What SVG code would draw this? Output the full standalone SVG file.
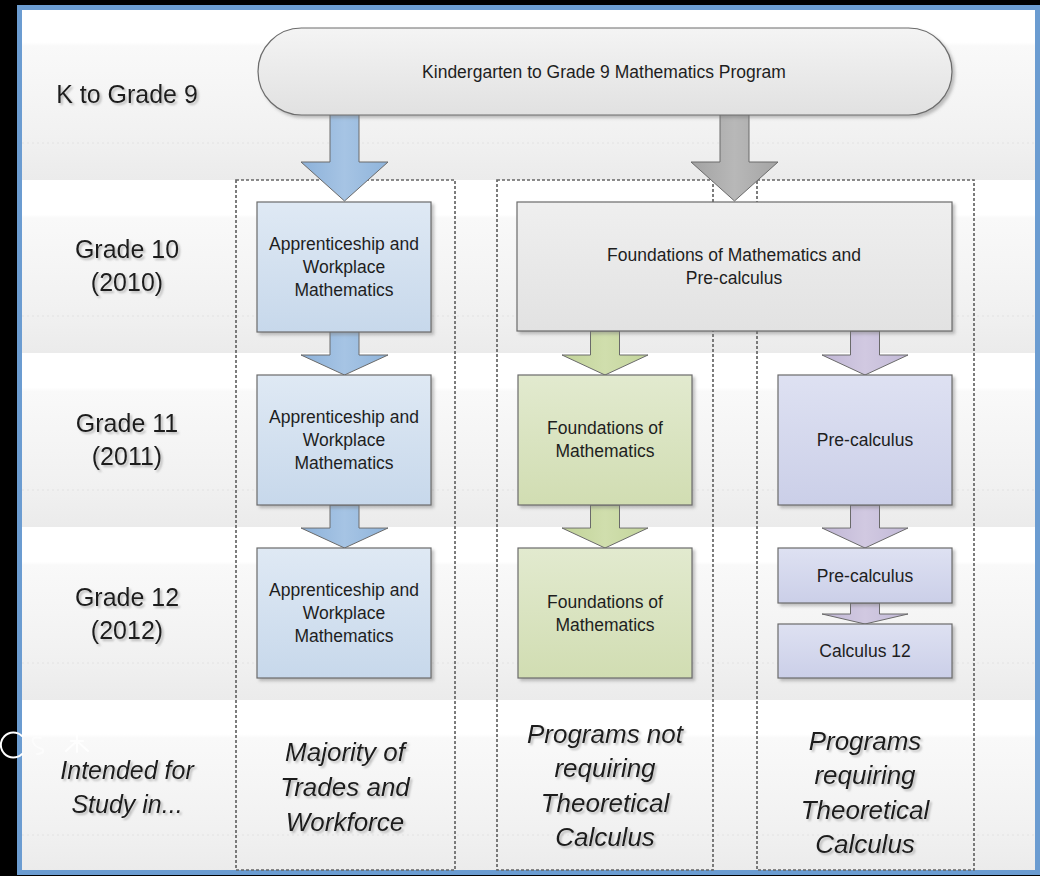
<svg xmlns="http://www.w3.org/2000/svg" width="1040" height="876" viewBox="0 0 1040 876">
  <defs>
    <linearGradient id="rowGrad" x1="0" y1="0" x2="0" y2="1">
      <stop offset="0" stop-color="#ffffff"/>
      <stop offset="0.2" stop-color="#ffffff"/>
      <stop offset="0.22" stop-color="#f9f9f9"/>
      <stop offset="0.5" stop-color="#f5f5f5"/>
      <stop offset="0.75" stop-color="#f1f1f1"/>
      <stop offset="1" stop-color="#ebebeb"/>
    </linearGradient>
    <linearGradient id="pillGrad" x1="0" y1="0" x2="0" y2="1">
      <stop offset="0" stop-color="#f4f4f4"/>
      <stop offset="1" stop-color="#e1e1e1"/>
    </linearGradient>
    <linearGradient id="grayBoxGrad" x1="0" y1="0" x2="0" y2="1">
      <stop offset="0" stop-color="#efefef"/>
      <stop offset="1" stop-color="#e2e2e2"/>
    </linearGradient>
    <linearGradient id="blueBoxGrad" x1="0" y1="0" x2="0" y2="1">
      <stop offset="0" stop-color="#dfe9f4"/>
      <stop offset="1" stop-color="#c7d8eb"/>
    </linearGradient>
    <linearGradient id="greenBoxGrad" x1="0" y1="0" x2="0" y2="1">
      <stop offset="0" stop-color="#e2eacf"/>
      <stop offset="1" stop-color="#d1ddb2"/>
    </linearGradient>
    <linearGradient id="purpleBoxGrad" x1="0" y1="0" x2="0" y2="1">
      <stop offset="0" stop-color="#dee1f2"/>
      <stop offset="1" stop-color="#cbcfe8"/>
    </linearGradient>
    <linearGradient id="blueArrow" x1="0" y1="0" x2="1" y2="0">
      <stop offset="0" stop-color="#8cb1d9"/>
      <stop offset="0.5" stop-color="#a6c4e4"/>
      <stop offset="1" stop-color="#8fb4db"/>
    </linearGradient>
    <linearGradient id="grayArrow" x1="0" y1="0" x2="1" y2="0">
      <stop offset="0" stop-color="#a2a2a2"/>
      <stop offset="0.5" stop-color="#b8b8b8"/>
      <stop offset="1" stop-color="#a4a4a4"/>
    </linearGradient>
    <linearGradient id="greenArrow" x1="0" y1="0" x2="1" y2="0">
      <stop offset="0" stop-color="#c1d398"/>
      <stop offset="0.5" stop-color="#d0dead"/>
      <stop offset="1" stop-color="#c3d59b"/>
    </linearGradient>
    <linearGradient id="purpleArrow" x1="0" y1="0" x2="1" y2="0">
      <stop offset="0" stop-color="#c0b6d5"/>
      <stop offset="0.5" stop-color="#d1c9e1"/>
      <stop offset="1" stop-color="#c2b9d7"/>
    </linearGradient>
    <filter id="txtShadow" x="-10%" y="-20%" width="130%" height="150%">
      <feDropShadow dx="2" dy="2" stdDeviation="0.8" flood-color="#8a8a8a" flood-opacity="0.55"/>
    </filter>
    <filter id="boxShadow" x="-10%" y="-10%" width="125%" height="125%">
      <feDropShadow dx="2.5" dy="2.5" stdDeviation="1.5" flood-color="#777777" flood-opacity="0.45"/>
    </filter>
  </defs>
  <style>
    .row { fill: url(#rowGrad); }
    .rowline { stroke: #e2e2e2; stroke-width: 1; stroke-dasharray: 2 3; }
    .col { fill: none; stroke: #666666; stroke-width: 1.7; stroke-dasharray: 3 2; }
    .lbl { font-family: "Liberation Sans", Arial, sans-serif; font-size: 25px; fill: #1c1c1c; text-anchor: middle; filter: url(#txtShadow); }
    .ital { font-family: "Liberation Sans", Arial, sans-serif; font-style: italic; font-size: 26px; fill: #1c1c1c; text-anchor: middle; filter: url(#txtShadow); }
    .ital24 { font-family: "Liberation Sans", Arial, sans-serif; font-style: italic; font-size: 25px; fill: #1c1c1c; text-anchor: middle; filter: url(#txtShadow); }
    .bt { font-family: "Liberation Sans", Arial, sans-serif; font-size: 17.5px; fill: #1e1e1e; text-anchor: middle; }
    .box { stroke: #6c6c6c; stroke-width: 1.2; filter: url(#boxShadow); }
    .arrow { stroke: #6a6a6a; stroke-width: 1; stroke-linejoin: miter; }
    .spark { stroke: #ffffff; stroke-width: 2; fill: none; stroke-linecap: round; }
  </style>

  <!-- background -->
  <rect x="0" y="0" width="1040" height="876" fill="#000000"/>
  <g id="rows">
    <rect class="row" x="20" y="8" width="1017" height="172"/>
    <rect class="row" x="20" y="180" width="1017" height="173"/>
    <rect class="row" x="20" y="353" width="1017" height="174"/>
    <rect class="row" x="20" y="527" width="1017" height="173"/>
    <rect class="row" x="20" y="700" width="1017" height="172"/>
    <line class="rowline" x1="22" y1="143" x2="1035" y2="143"/>
    <line class="rowline" x1="22" y1="316" x2="1035" y2="316"/>
    <line class="rowline" x1="22" y1="490" x2="1035" y2="490"/>
    <line class="rowline" x1="22" y1="663" x2="1035" y2="663"/>
    <line class="rowline" x1="22" y1="835" x2="1035" y2="835"/>
  </g>
  <rect x="19.5" y="7.5" width="1018" height="865" fill="none" stroke="#6b9cd1" stroke-width="5"/>

  <!-- row labels -->
  <g id="row-labels">
    <text class="lbl" x="127" y="103">K to Grade 9</text>
    <text class="lbl" x="127" y="258">Grade 10</text>
    <text class="lbl" x="127" y="291">(2010)</text>
    <text class="lbl" x="127" y="432">Grade 11</text>
    <text class="lbl" x="127" y="465">(2011)</text>
    <text class="lbl" x="127" y="606">Grade 12</text>
    <text class="lbl" x="127" y="639">(2012)</text>
    <text class="ital24" x="127" y="779">Intended for</text>
    <text class="ital24" x="127" y="813">Study in...</text>
  </g>

  <!-- stray overlay marks at lower left -->
  <g id="overlay-marks">
    <path class="spark" d="M 22 736 A 12.5 12.5 0 1 0 22 754" stroke-width="2.5"/>
    <path class="spark" d="M 41 738 Q 31 736 33 742 Q 35 747 42 749 Q 46 753 37 754" stroke-width="1.5" opacity="0.55"/>
    <path class="spark" d="M 77 735 L 77 752 M 77 741 L 66 751 M 77 741 L 88 751 M 71 741 L 83 741" stroke-width="1.6" opacity="0.85"/>
  </g>

  <!-- dashed column frames -->
  <g id="columns">
    <rect class="col" x="236" y="180" width="219" height="690"/>
    <rect class="col" x="497" y="180" width="216" height="690"/>
    <rect class="col" x="757" y="180" width="217" height="690"/>
  </g>

  <!-- column footer labels -->
  <g id="footer-labels">
    <text class="ital" x="345" y="761">Majority of</text>
    <text class="ital" x="345" y="796">Trades and</text>
    <text class="ital" x="345" y="831">Workforce</text>
    <text class="ital" x="605" y="743">Programs not</text>
    <text class="ital" x="605" y="777">requiring</text>
    <text class="ital" x="605" y="812">Theoretical</text>
    <text class="ital" x="605" y="846">Calculus</text>
    <text class="ital" x="865" y="750">Programs</text>
    <text class="ital" x="865" y="784">requiring</text>
    <text class="ital" x="865" y="819">Theoretical</text>
    <text class="ital" x="865" y="853">Calculus</text>
  </g>

  <!-- connectors -->
  <g id="connectors">
    <polygon class="arrow" fill="url(#blueArrow)" points="330,114 359,114 359,162 388,162 344.5,201 301,162 330,162"/>
    <polygon class="arrow" fill="url(#grayArrow)" points="720,114 749,114 749,162 778,162 734.5,201 691,162 720,162"/>
    <polygon class="arrow" fill="url(#blueArrow)" points="330,331 359,331 359,355 388,355 344.5,375 301,355 330,355"/>
    <polygon class="arrow" fill="url(#blueArrow)" points="330,505 359,505 359,528 388,528 344.5,548 301,528 330,528"/>
    <polygon class="arrow" fill="url(#greenArrow)" points="590.5,331 619.5,331 619.5,355 648,355 605,375 562,355 590.5,355"/>
    <polygon class="arrow" fill="url(#greenArrow)" points="590.5,505 619.5,505 619.5,528 648,528 605,548 562,528 590.5,528"/>
    <polygon class="arrow" fill="url(#purpleArrow)" points="850.5,331 879.5,331 879.5,355 908,355 865,375 822,355 850.5,355"/>
    <polygon class="arrow" fill="url(#purpleArrow)" points="850.5,505 879.5,505 879.5,528 908,528 865,548 822,528 850.5,528"/>
    <polygon class="arrow" fill="url(#purpleArrow)" points="850.5,603 879.5,603 879.5,614 908,614 865,624 822,614 850.5,614"/>
  </g>

  <!-- nodes -->
  <g id="k9">
    <rect class="box" x="258" y="28" width="694" height="87" rx="43.5" fill="url(#pillGrad)"/>
    <text class="bt" x="604" y="78">Kindergarten to Grade 9 Mathematics Program</text>
  </g>
  <g id="aw10">
    <rect class="box" x="257" y="202" width="174" height="130" fill="url(#blueBoxGrad)"/>
    <text class="bt" x="344" y="250">Apprenticeship and</text>
    <text class="bt" x="344" y="273">Workplace</text>
    <text class="bt" x="344" y="296">Mathematics</text>
  </g>
  <g id="aw11">
    <rect class="box" x="257" y="375" width="174" height="130" fill="url(#blueBoxGrad)"/>
    <text class="bt" x="344" y="423">Apprenticeship and</text>
    <text class="bt" x="344" y="446">Workplace</text>
    <text class="bt" x="344" y="469">Mathematics</text>
  </g>
  <g id="aw12">
    <rect class="box" x="257" y="548" width="174" height="130" fill="url(#blueBoxGrad)"/>
    <text class="bt" x="344" y="596">Apprenticeship and</text>
    <text class="bt" x="344" y="619">Workplace</text>
    <text class="bt" x="344" y="642">Mathematics</text>
  </g>
  <g id="fpc10">
    <rect class="box" x="517" y="202" width="435" height="129" fill="url(#grayBoxGrad)"/>
    <text class="bt" x="734" y="261">Foundations of Mathematics and</text>
    <text class="bt" x="734" y="284">Pre-calculus</text>
  </g>
  <g id="fm11">
    <rect class="box" x="518" y="375" width="174" height="130" fill="url(#greenBoxGrad)"/>
    <text class="bt" x="605" y="434">Foundations of</text>
    <text class="bt" x="605" y="457">Mathematics</text>
  </g>
  <g id="fm12">
    <rect class="box" x="518" y="548" width="174" height="130" fill="url(#greenBoxGrad)"/>
    <text class="bt" x="605" y="608">Foundations of</text>
    <text class="bt" x="605" y="631">Mathematics</text>
  </g>
  <g id="pc11">
    <rect class="box" x="778" y="375" width="174" height="130" fill="url(#purpleBoxGrad)"/>
    <text class="bt" x="865" y="446">Pre-calculus</text>
  </g>
  <g id="pc12">
    <rect class="box" x="778" y="548" width="174" height="55" fill="url(#purpleBoxGrad)"/>
    <text class="bt" x="865" y="582">Pre-calculus</text>
  </g>
  <g id="calc12">
    <rect class="box" x="778" y="624" width="174" height="54" fill="url(#purpleBoxGrad)"/>
    <text class="bt" x="865" y="657">Calculus 12</text>
  </g>
</svg>
